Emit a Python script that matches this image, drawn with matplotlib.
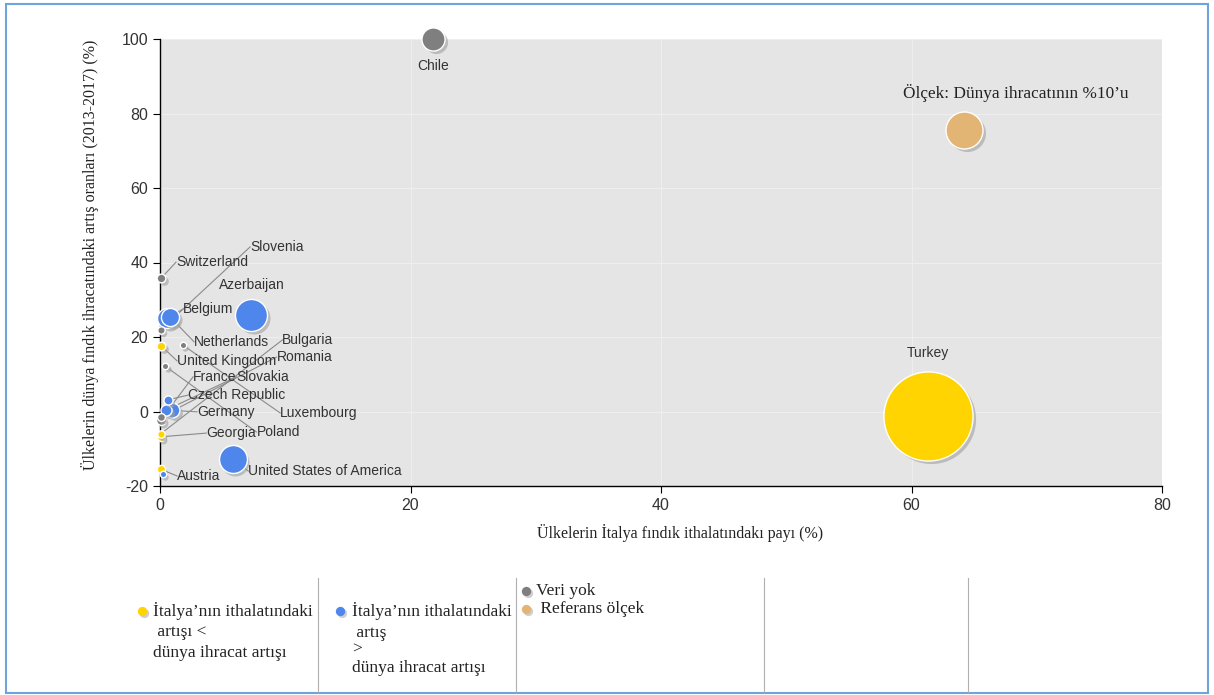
import numpy as np
import matplotlib
matplotlib.use("Agg")
import matplotlib.pyplot as plt
from matplotlib.transforms import ScaledTranslation
from matplotlib.patches import Rectangle

plt.rcParams["axes.unicode_minus"] = False

# ---- data ----
names = ["Turkey", "Chile", "Azerbaijan", "United States of America", "Belgium",
         "Netherlands", "Switzerland", "Slovenia", "Luxembourg", "United Kingdom",
         "Poland", "Czech Republic", "Slovakia", "Germany", "France",
         "Romania", "Bulgaria", "Georgia", "Austria", ""]
share_italy = [61.3, 21.8, 7.3, 5.8, 0.55,
               0.8, 0.1, 0.05, 1.8, 0.1,
               0.4, 0.6, 0.5, 0.95, 0.05,
               0.05, 0.05, 0.05, 0.05, 0.2]
export_growth = [-1.2, 100.0, 25.9, -12.8, 25.1,
                 25.4, 35.8, 21.9, 17.9, 17.6,
                 12.2, 3.1, 0.4, 0.3, -2.3,
                 -1.5, -6.0, -6.8, -15.5, -16.8]
world_share = [58, 3.9, 7.5, 5.7, 2.9,
               2.4, 0.55, 0.4, 0.3, 0.55,
               0.3, 0.6, 0.9, 1.6, 0.7,
               0.45, 0.4, 0.45, 0.5, 0.3]
group = ["y", "g", "b", "b", "b",
         "b", "g", "g", "g", "y",
         "g", "b", "b", "b", "g",
         "g", "y", "y", "y", "b"]

ref_x, ref_y, ref_share = 64.2, 75.6, 10
ref_label = "Ölçek: Dünya ihracatının %10’u"

# label anchor positions (layout)
lab_x = [61.3, 21.8, 7.3, 7.05, 1.84,
         2.72, 1.28, 7.2, 9.6, 1.36,
         7.7, 2.24, 6.1, 2.96, 2.64,
         9.3, 9.77, 3.7, 1.36, 0]
lab_y = [15.7, 92.8, 34.0, -16.0, 27.5,
         18.7, 40.1, 44.2, -0.4, 13.6,
         -5.5, 4.4, 9.3, -0.1, 9.3,
         14.6, 19.2, -5.8, -17.3, 0]
centered = {"Turkey", "Chile", "Azerbaijan"}

colors = {"y": "#FFD400", "b": "#4F86EC", "g": "#7F7F7F"}
ref_color = "#E2B574"
S_PER_PCT = 71.0

serif = ["Liberation Serif", "DejaVu Serif"]
sans = ["Liberation Sans", "DejaVu Sans"]

fig = plt.figure(figsize=(12.14, 6.95), dpi=100)
fig.patch.set_facecolor("white")

ax = fig.add_axes([160/1214, 1 - 486/695, 1002/1214, 447/695])
ax.set_facecolor("#E5E5E5")
ax.set_xlim(0, 80)
ax.set_ylim(-20, 100)
ax.set_xticks([0, 20, 40, 60, 80])
ax.set_yticks([-20, 0, 20, 40, 60, 80, 100])
ax.grid(True, color="#EEEEEE", lw=0.8)
ax.set_axisbelow(True)
for s in ["top", "right"]:
    ax.spines[s].set_visible(False)
for s in ["left", "bottom"]:
    ax.spines[s].set_color("black")
    ax.spines[s].set_linewidth(1.0)
ax.tick_params(length=5, color="black", labelcolor="#333333", labelsize=11.5)
for t in ax.get_xticklabels() + ax.get_yticklabels():
    t.set_family(sans)

ax.set_xlabel("Ülkelerin İtalya fındık ithalatındakı payı (%)", family=serif,
              fontsize=11.5, color="#222222")
ax.xaxis.set_label_coords(0.519, -0.085)
ax.set_ylabel("Ülkelerin dünya fındık ihracatındaki artış oranları (2013-2017) (%)",
              family=serif, fontsize=11.5, color="#222222")
ax.yaxis.set_label_coords(-0.061, 0.517)

shadow = ax.transData + ScaledTranslation(2/72, -2/72, fig.dpi_scale_trans)

# leader lines
for n, x, y, lx, ly in zip(names, share_italy, export_growth, lab_x, lab_y):
    if n and n not in centered:
        ax.plot([x, lx], [y, ly], color="#8A8A8A", lw=0.8, zorder=2, clip_on=False)

# bubbles, big ones first
order = np.argsort(world_share, kind="stable")[::-1]
for i in order:
    s = world_share[i] * S_PER_PCT
    ax.scatter(share_italy[i], export_growth[i], s=s, color="#A0A0A0", alpha=0.6,
               transform=shadow, zorder=3, clip_on=False, linewidths=0)
    ax.scatter(share_italy[i], export_growth[i], s=s, color=colors[group[i]],
               edgecolors="white", linewidths=1.0, zorder=3, clip_on=False)

ax.scatter(ref_x, ref_y, s=ref_share * S_PER_PCT, color="#A0A0A0", alpha=0.6,
           transform=shadow, zorder=3, linewidths=0)
ax.scatter(ref_x, ref_y, s=ref_share * S_PER_PCT, color=ref_color,
           edgecolors="white", linewidths=1.0, zorder=3)
ax.text(68.3, 85.5, ref_label, family=serif, fontsize=12.4, color="#222222",
        ha="center", va="center", zorder=5)

for n, lx, ly in zip(names, lab_x, lab_y):
    if not n:
        continue
    ax.text(lx, ly, n, family=sans, fontsize=10, color="#333333",
            ha="center" if n in centered else "left", va="center", zorder=5, clip_on=False)

# ---- legend and frame (pixel overlay) ----
ov = fig.add_axes([0, 0, 1, 1], zorder=-1)
ov.set_xlim(0, 1214)
ov.set_ylim(695, 0)
ov.axis("off")
ov.add_patch(Rectangle((6, 4), 1202, 689, fill=False, edgecolor="#6FA3DC", lw=1.5))
for sx in [318, 516, 764, 968]:
    ov.plot([sx, sx], [578, 692], color="#B0B0B0", lw=0.8)

leg_items = [
    (142, 611, colors["y"], 153, ["İtalya’nın ithalatındaki", " artışı <", "dünya ihracat artışı"],
     [0, 21, 42]),
    (340, 611, colors["b"], 352, ["İtalya’nın ithalatındaki", " artış", ">", "dünya ihracat artışı"],
     [0, 22, 39, 57]),
    (526, 591, colors["g"], 536, ["Veri yok"], [0]),
    (526, 609, ref_color, 536, [" Referans ölçek"], [0]),
]
for dx, dy, c, tx, lines, offs in leg_items:
    ov.scatter(dx + 1.5, dy + 1.5, s=45, color="#B0B0B0", alpha=0.6, linewidths=0)
    ov.scatter(dx, dy, s=45, color=c, linewidths=0)
    for ln, o in zip(lines, offs):
        ov.text(tx, dy + o, ln, family=serif, fontsize=12.5, color="#222222",
                ha="left", va="center")

fig.savefig("out.png", dpi=100)
